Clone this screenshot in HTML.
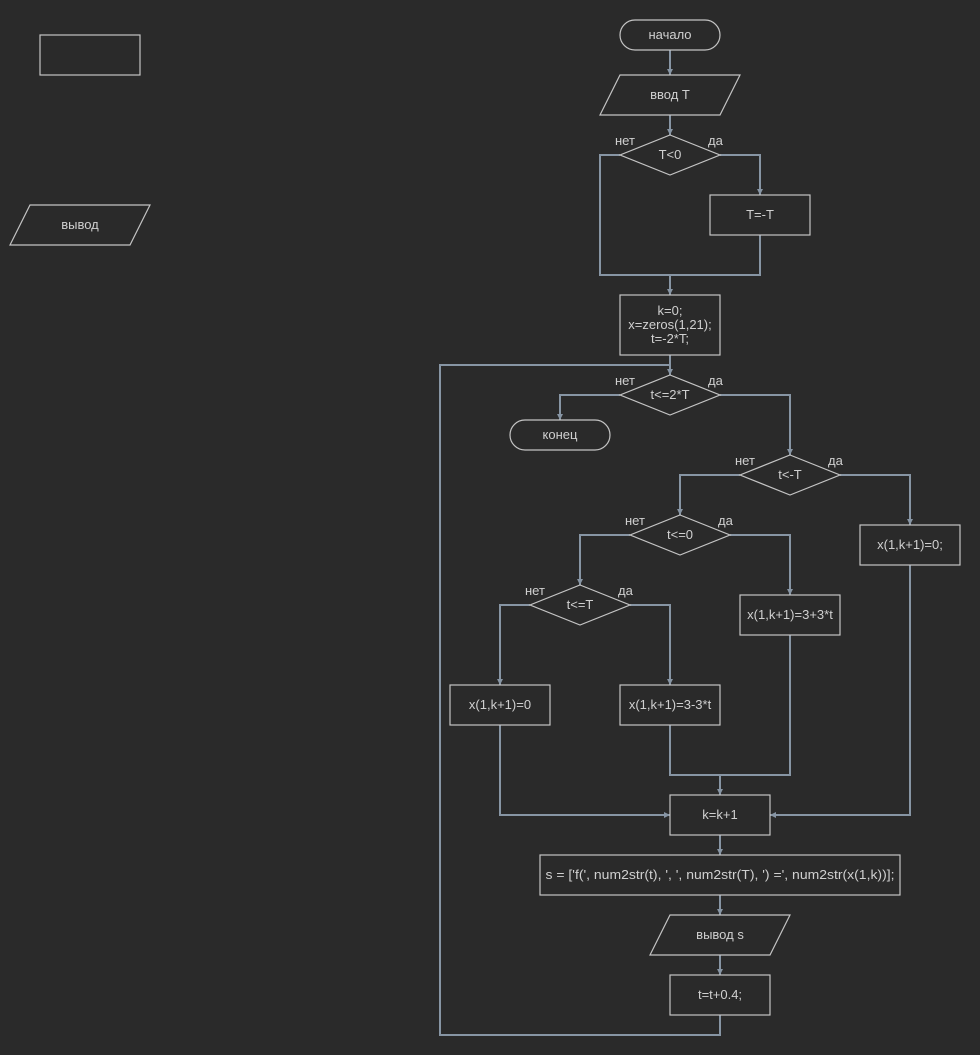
<!DOCTYPE html>
<html><head><meta charset="utf-8"><style>
html,body{margin:0;padding:0;background:#2a2a2a;}
svg{display:block;}
text{font-family:"Liberation Sans",Arial,sans-serif;font-size:13px;fill:#d0d0d0;}
.s{fill:none;stroke:#c4c4c4;stroke-width:1.2;}
.c{fill:none;stroke:#8795a4;stroke-width:2;}
.a{fill:#8795a4;}
</style></head><body>
<svg width="980" height="1055" viewBox="0 0 980 1055" xmlns="http://www.w3.org/2000/svg">
<rect width="980" height="1055" fill="#2a2a2a"/>

<!-- connectors -->
<g class="c">
<path d="M670 50V75"/>
<path d="M670 115V135"/>
<path d="M620 155H600V275H760V235"/>
<path d="M720 155H760V195"/>
<path d="M670 275V295"/>
<path d="M670 355V375"/>
<path d="M720 1015V1035H440V365H670"/>
<path d="M620 395H560V420"/>
<path d="M720 395H790V455"/>
<path d="M740 475H680V515"/>
<path d="M840 475H910V525"/>
<path d="M630 535H580V585"/>
<path d="M730 535H790V595"/>
<path d="M530 605H500V685"/>
<path d="M630 605H670V685"/>
<path d="M670 725V775H790V635"/>
<path d="M720 775V795"/>
<path d="M500 725V815H670"/>
<path d="M910 565V815H770"/>
<path d="M720 835V855"/>
<path d="M720 895V915"/>
<path d="M720 955V975"/>
</g>
<!-- arrowheads -->
<g class="a">
<path d="M667 69L673 69L670 75Z"/>
<path d="M667 129L673 129L670 135Z"/>
<path d="M757 189L763 189L760 195Z"/>
<path d="M667 289L673 289L670 295Z"/>
<path d="M667 369L673 369L670 375Z"/>
<path d="M557 414L563 414L560 420Z"/>
<path d="M787 449L793 449L790 455Z"/>
<path d="M677 509L683 509L680 515Z"/>
<path d="M907 519L913 519L910 525Z"/>
<path d="M577 579L583 579L580 585Z"/>
<path d="M787 589L793 589L790 595Z"/>
<path d="M497 679L503 679L500 685Z"/>
<path d="M667 679L673 679L670 685Z"/>
<path d="M717 789L723 789L720 795Z"/>
<path d="M664 812L664 818L670 815Z"/>
<path d="M776 812L776 818L770 815Z"/>
<path d="M717 849L723 849L720 855Z"/>
<path d="M717 909L723 909L720 915Z"/>
<path d="M717 969L723 969L720 975Z"/>
</g>

<!-- shapes -->
<g class="s">
<rect x="40" y="35" width="100" height="40"/>
<polygon points="30,205 150,205 130,245 10,245"/>
<rect x="620" y="20" width="100" height="30" rx="15" ry="15"/>
<polygon points="620,75 740,75 720,115 600,115"/>
<polygon points="670,135 720,155 670,175 620,155"/>
<rect x="710" y="195" width="100" height="40"/>
<rect x="620" y="295" width="100" height="60"/>
<polygon points="670,375 720,395 670,415 620,395"/>
<rect x="510" y="420" width="100" height="30" rx="15" ry="15"/>
<polygon points="790,455 840,475 790,495 740,475"/>
<rect x="860" y="525" width="100" height="40"/>
<polygon points="680,515 730,535 680,555 630,535"/>
<rect x="740" y="595" width="100" height="40"/>
<polygon points="580,585 630,605 580,625 530,605"/>
<rect x="450" y="685" width="100" height="40"/>
<rect x="620" y="685" width="100" height="40"/>
<rect x="670" y="795" width="100" height="40"/>
<rect x="540" y="855" width="360" height="40"/>
<polygon points="670,915 790,915 770,955 650,955"/>
<rect x="670" y="975" width="100" height="40"/>
</g>

<!-- texts -->
<g text-anchor="middle">
<text x="80" y="229">вывод</text>
<text x="670" y="39">начало</text>
<text x="670" y="99">ввод T</text>
<text x="670" y="159">T&lt;0</text>
<text x="760" y="219">T=-T</text>
<text x="670" y="315">k=0;</text>
<text x="670" y="329">x=zeros(1,21);</text>
<text x="670" y="343">t=-2*T;</text>
<text x="670" y="399">t&lt;=2*T</text>
<text x="560" y="439">конец</text>
<text x="790" y="479">t&lt;-T</text>
<text x="910" y="549">x(1,k+1)=0;</text>
<text x="680" y="539">t&lt;=0</text>
<text x="790" y="619">x(1,k+1)=3+3*t</text>
<text x="580" y="609">t&lt;=T</text>
<text x="500" y="709">x(1,k+1)=0</text>
<text x="670" y="709">x(1,k+1)=3-3*t</text>
<text x="720" y="819">k=k+1</text>
<text x="720" y="879" textLength="349" lengthAdjust="spacingAndGlyphs">s = ['f(', num2str(t), ', ', num2str(T), ') =', num2str(x(1,k))];</text>
<text x="720" y="939">вывод s</text>
<text x="720" y="999">t=t+0.4;</text>
</g>
<!-- yes/no labels -->
<g>
<text x="615" y="145">нет</text><text x="708" y="145">да</text>
<text x="615" y="385">нет</text><text x="708" y="385">да</text>
<text x="735" y="465">нет</text><text x="828" y="465">да</text>
<text x="625" y="525">нет</text><text x="718" y="525">да</text>
<text x="525" y="595">нет</text><text x="618" y="595">да</text>
</g>
</svg>
</body></html>
